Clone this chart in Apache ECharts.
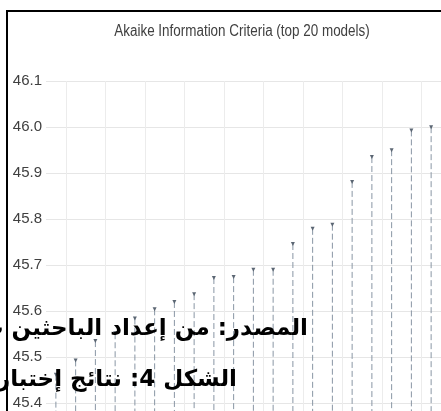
<!DOCTYPE html>
<html>
<head>
<meta charset="utf-8">
<style>
  html, body { margin: 0; padding: 0; background: #fff; }
  #chart { width: 441px; height: 411px; }
</style>
<script src="https://cdn.jsdelivr.net/npm/echarts@6/dist/echarts.min.js"></script>
</head>
<body>
<div id="chart"></div>
<script>
// Top 20 models ranked by AIC
const models = ['1','2','3','4','5','6','7','8','9','10','11','12','13','14','15','16','17','18','19','20'];
const aicValues = [45.466, 45.497, 45.539, 45.556, 45.588, 45.608, 45.624, 45.641, 45.676, 45.678,
                   45.694, 45.694, 45.750, 45.783, 45.792, 45.885, 45.939, 45.954, 45.997, 46.004];
const yMin = 45.3, yMax = 46.1, yStep = 0.1;

const titleText = 'Akaike Information Criteria (top 20 models)';
const sourceText = 'المصدر: من إعداد الباحثين ب';
const captionText = 'الشكل 4: نتائج إختبار';

const chart = echarts.init(document.getElementById('chart'), null, { renderer: 'canvas' });

const sans = '"Liberation Sans", Arial, sans-serif';

chart.setOption({
  animation: false,
  backgroundColor: '#ffffff',
  grid: { left: 46, top: 81, width: 395, height: 368, containLabel: false, outerBoundsMode: 'none' },
  xAxis: {
    type: 'category',
    data: models,
    boundaryGap: true,
    axisLine: { show: false },
    axisTick: { show: false },
    axisLabel: { show: false },
    splitLine: {
      show: true,
      interval: (i) => i % 2 === 1,
      lineStyle: { color: '#ececec', width: 1 }
    }
  },
  yAxis: {
    type: 'value',
    min: yMin,
    max: yMax,
    interval: yStep,
    axisLine: { show: false },
    axisTick: { show: false },
    axisLabel: {
      margin: 4,
      formatter: (v) => v.toFixed(1),
      fontFamily: sans,
      fontSize: 15,
      color: '#404040'
    },
    splitLine: { show: true, lineStyle: { color: '#e6e6e6', width: 1 } }
  },
  series: [{
    type: 'custom',
    data: aicValues.map((v, i) => [i, v]),
    encode: { x: 0, y: 1 },
    renderItem: (params, api) => {
      const idx = api.value(0);
      const top = api.coord([idx, api.value(1)]);
      const base = api.coord([idx, yMin]);
      return {
        type: 'group',
        children: [
          {
            type: 'line',
            shape: { x1: top[0], y1: top[1] + 2, x2: base[0], y2: base[1] },
            style: { stroke: '#8996a4', lineWidth: 1, lineDash: [6, 3] }
          },
          {
            type: 'polygon',
            shape: { points: [[top[0] - 2, top[1]], [top[0] + 2, top[1]], [top[0], top[1] + 4]] },
            style: { fill: '#5b6673' }
          }
        ]
      };
    }
  }],
  graphic: [
    {
      // chart title, set in a condensed width
      type: 'text',
      z: 50,
      x: 242,
      y: 32,
      scaleX: 0.84,
      style: {
        text: titleText,
        align: 'center',
        verticalAlign: 'middle',
        font: '16px "Liberation Sans", Arial, sans-serif',
        fill: '#404040'
      }
    },
    {
      type: 'rect',
      z: 100,
      shape: { x: 7, y: 11, width: 700, height: 700 },
      style: { fill: 'none', stroke: '#000000', lineWidth: 2 }
    },
    {
      type: 'text',
      z: 110,
      x: 308,
      y: 329,
      style: {
        text: sourceText,
        align: 'right',
        verticalAlign: 'middle',
        font: 'bold 23px "DejaVu Sans", sans-serif',
        fill: '#000000'
      }
    },
    {
      type: 'text',
      z: 110,
      x: 237,
      y: 380,
      style: {
        text: captionText,
        align: 'right',
        verticalAlign: 'middle',
        font: 'bold 23px "DejaVu Sans", sans-serif',
        fill: '#000000'
      }
    }
  ]
});
</script>
</body>
</html>
